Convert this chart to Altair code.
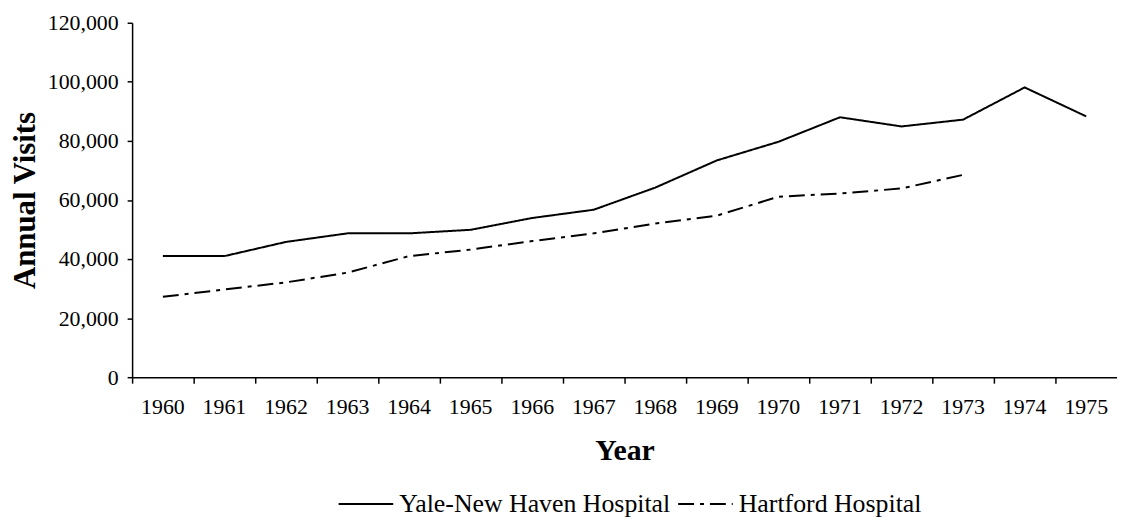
import altair as alt
import pandas as pd

years = list(range(1960, 1976))
yale_visits = [41000, 41000, 45800, 48700, 48700, 49900, 53900, 56700,
               64200, 73400, 79700, 88000, 84900, 87200, 98100, 88300]
hartford_years = list(range(1960, 1974))
hartford_visits = [27200, 29700, 32100, 35400, 41000, 43200, 46100,
                   48700, 52000, 54700, 61100, 62200, 63900, 68500]
series_names = ["Yale-New Haven Hospital", "Hartford Hospital"]
y_ticks = [0, 20000, 40000, 60000, 80000, 100000, 120000]

rows = []
for yr, v in zip(years, yale_visits):
    rows.append({"Year": yr, "Visits": v, "Series": series_names[0]})
for yr, v in zip(hartford_years, hartford_visits):
    rows.append({"Year": yr, "Visits": v, "Series": series_names[1]})
df = pd.DataFrame(rows)

FONT = "Liberation Serif"

chart = (
    alt.Chart(df)
    .mark_line(strokeWidth=2, color="black", strokeCap="butt")
    .encode(
        x=alt.X(
            "Year:O",
            scale=alt.Scale(type="band", paddingInner=0, paddingOuter=0),
            axis=alt.Axis(
                title="Year",
                labelAngle=0,
                bandPosition=0,
                tickSize=6,
                labelPadding=14,
                titlePadding=18,
                titleFontSize=30,
            ),
        ),
        y=alt.Y(
            "Visits:Q",
            scale=alt.Scale(domain=[0, 120000], nice=False),
            axis=alt.Axis(
                title="Annual Visits",
                values=y_ticks,
                format=",.0f",
                tickSize=5,
                labelPadding=9,
                titlePadding=6,
                titleFontSize=31,
            ),
        ),
        strokeDash=alt.StrokeDash(
            "Series:N",
            scale=alt.Scale(domain=series_names, range=[[1, 0], [16, 6, 4, 6]]),
            legend=alt.Legend(
                title=None,
                orient="none",
                legendX=207,
                legendY=456,
                direction="horizontal",
                symbolType="stroke",
                symbolSize=3025,
                symbolStrokeWidth=2,
                symbolStrokeColor="black",
                labelFont=FONT,
                labelFontSize=26,
                labelColor="black",
                columnPadding=3,
                labelOffset=5,
                padding=0,
                labelLimit=0,
            ),
        ),
        detail="Series:N",
    )
    .properties(
        width=992,
        height=357,
        autosize=alt.AutoSizeParams(type="none"),
        padding={"left": 125, "top": 13, "right": 0, "bottom": 145},
    )
    .configure_view(stroke=None)
    .configure_axis(
        grid=False,
        domainColor="black",
        domainWidth=1.5,
        tickColor="black",
        tickWidth=1.5,
        labelColor="black",
        labelFont=FONT,
        labelFontSize=22,
        titleFont=FONT,
        titleFontWeight="bold",
        titleColor="black",
    )
)

chart.save("out.html", embed_options={"renderer": "svg", "actions": False})
